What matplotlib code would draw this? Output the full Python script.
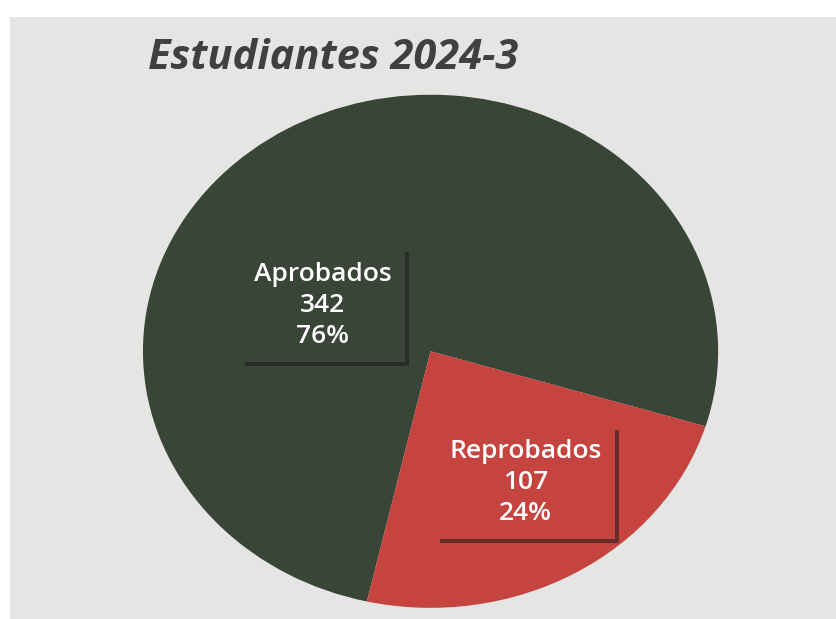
import matplotlib.pyplot as plt
import matplotlib.patheffects as pe
from matplotlib.patches import Rectangle

# datos
categorias = ['Aprobados', 'Reprobados']
valores = [342, 107]
colores = ['#394537', '#c6443f']
titulo = 'Estudiantes 2024-3'

fig = plt.figure(figsize=(8.36, 6.19), dpi=100)
fig.patch.set_facecolor('white')
# fondo gris del recuadro escaneado
fig.patches.append(Rectangle((0.012, 0), 0.988, 0.972, transform=fig.transFigure,
                             facecolor='#e5e6e4', edgecolor='none', zorder=-10))

ax = fig.add_axes([0.171, 0.018, 0.688, 0.829])
ax.set_zorder(1)
ax.patch.set_visible(False)
total = sum(valores)
wedges, _ = ax.pie(valores, colors=colores, startangle=-17, counterclock=True,
                   radius=1, wedgeprops=dict(linewidth=0))
ax.set_aspect('auto')
ax.set_xlim(-1, 1)
ax.set_ylim(-1, 1)

# etiquetas con caja y sombra
pos = [(-0.375, 0.18), (0.33, -0.51)]
for cat, v, c, (x, y) in zip(categorias, valores, colores, pos):
    txt = '%s\n%d\n%d%%' % (cat, v, round(100 * v / total))
    t = ax.text(x, y, txt, ha='center', va='center', color='white',
                fontsize=19, fontweight='semibold', family='Open Sans',
                linespacing=1.32,
                bbox=dict(boxstyle='square,pad=0.5', facecolor=c, edgecolor='none'))
    t.get_bbox_patch().set_path_effects([
        pe.SimplePatchShadow(offset=(3, -3), shadow_rgbFace='#1a1a1a', alpha=0.55),
        pe.Normal()])

fig.text(0.177, 0.905, titulo, fontsize=30, fontweight='bold', fontstyle='italic',
         family='Open Sans', color='#404040', ha='left', va='center', zorder=2)

fig.savefig('out.png', dpi=100)
